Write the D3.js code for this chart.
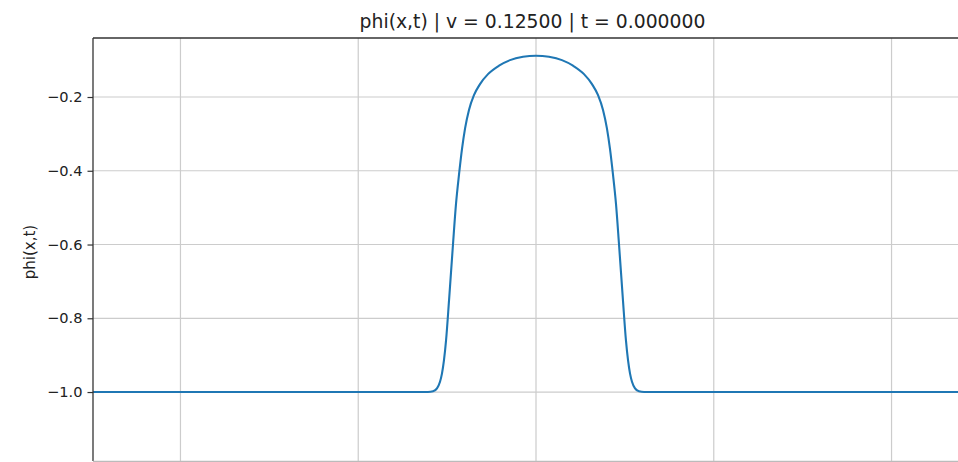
<!DOCTYPE html>
<html>
<head>
<meta charset="utf-8">
<script src="https://cdn.jsdelivr.net/npm/d3@7"></script>
<style>
  html, body { margin: 0; padding: 0; background: #fff; }
  svg { display: block; font-family: "DejaVu Sans", sans-serif; }
</style>
</head>
<body>
<svg id="chart" width="958" height="462"></svg>
<script>
// Field profile phi(x, t) at t = 0
const xValues = [-24.92, -10, -6.3, -6.08, -5.79, -5.57, -5.40, -5.29, -5.18, -5.06, -4.89, -4.67, -4.50, -4.33, -4.16, -3.99, -3.77, -3.49, -3.15, -2.70, -2.08, -1.46, -0.73,
  0, 0.73, 1.46, 2.08, 2.70, 3.15, 3.49, 3.77, 3.99, 4.16, 4.33, 4.50, 4.67, 4.89, 5.06, 5.18, 5.29, 5.40, 5.57, 5.79, 6.08, 6.3, 10, 24.92];
const phiValues = [-1, -1, -1, -1.0, -0.998, -0.99, -0.972, -0.95, -0.915, -0.86, -0.75, -0.60, -0.49, -0.41, -0.34, -0.285, -0.235, -0.195, -0.165, -0.138, -0.115, -0.100, -0.091,
  -0.088, -0.091, -0.100, -0.115, -0.138, -0.165, -0.195, -0.235, -0.285, -0.34, -0.41, -0.49, -0.60, -0.75, -0.86, -0.915, -0.95, -0.972, -0.99, -0.998, -1.0, -1, -1, -1];
const xTicks = [-20, -10, 0, 10, 20];
const yTicks = [-0.2, -0.4, -0.6, -0.8, -1.0];
const titleText = "phi(x,t) | v = 0.12500 | t = 0.000000";
const yLabelText = "phi(x,t)";

const svg = d3.select("#chart");
const plotLeft = 93, plotRight = 979, plotTop = 38, plotBottom = 461;

const x = d3.scaleLinear().domain([-24.92, 24.92]).range([plotLeft, plotRight]);
const y = d3.scaleLinear().domain([-1.187, -0.04]).range([plotBottom, plotTop]);

svg.append("defs").append("clipPath").attr("id", "plot-clip")
  .append("rect").attr("x", plotLeft).attr("y", plotTop)
  .attr("width", plotRight - plotLeft).attr("height", plotBottom - plotTop);

// grid
const grid = svg.append("g").attr("stroke", "#cccccc").attr("stroke-width", 1.2);
grid.selectAll("line.gx").data(xTicks).join("line")
  .attr("x1", d => x(d)).attr("x2", d => x(d)).attr("y1", plotTop).attr("y2", plotBottom);
grid.selectAll("line.gy").data(yTicks).join("line")
  .attr("x1", plotLeft).attr("x2", plotRight).attr("y1", d => y(d)).attr("y2", d => y(d));

// curve
const pts = xValues.map((v, i) => [v, phiValues[i]]);
svg.append("path")
  .datum(pts)
  .attr("clip-path", "url(#plot-clip)")
  .attr("fill", "none")
  .attr("stroke", "#1f77b4")
  .attr("stroke-width", 2.1)
  .attr("d", d3.line().x(d => x(d[0])).y(d => y(d[1])).curve(d3.curveMonotoneX));

// y axis
const yAxis = d3.axisLeft(y).tickValues(yTicks).tickSize(5.5).tickPadding(5)
  .tickFormat(d => d3.format(".1f")(d).replace("-", "\u2212"));
const ya = svg.append("g").attr("transform", `translate(${plotLeft},0)`).call(yAxis);
ya.select(".domain").remove();
ya.selectAll(".tick line").attr("stroke", "#333").attr("stroke-width", 1.2);
ya.selectAll(".tick text").attr("fill", "#222").style("font-size", "14.6px")
  .style("font-family", "DejaVu Sans, sans-serif");

// spines
const spines = svg.append("g").attr("stroke", "#333").attr("stroke-width", 1.3).attr("fill", "none");
spines.append("line").attr("x1", plotLeft).attr("x2", plotLeft).attr("y1", plotTop).attr("y2", plotBottom);
spines.append("line").attr("x1", plotLeft).attr("x2", plotRight).attr("y1", plotTop).attr("y2", plotTop);
spines.append("line").attr("x1", plotLeft).attr("x2", plotRight).attr("y1", plotBottom + 0.5).attr("y2", plotBottom + 0.5)
  .attr("stroke", "#bbbbbb");

// title
svg.append("text")
  .attr("x", (plotLeft + plotRight) / 2 - 3.5).attr("y", 28)
  .attr("text-anchor", "middle")
  .attr("fill", "#222")
  .style("font-size", "18.8px")
  .text(titleText);

// y label
svg.append("text")
  .attr("transform", `translate(34.5,252) rotate(-90)`)
  .attr("text-anchor", "middle")
  .attr("fill", "#222")
  .style("font-size", "15px")
  .text(yLabelText);
</script>
</body>
</html>
